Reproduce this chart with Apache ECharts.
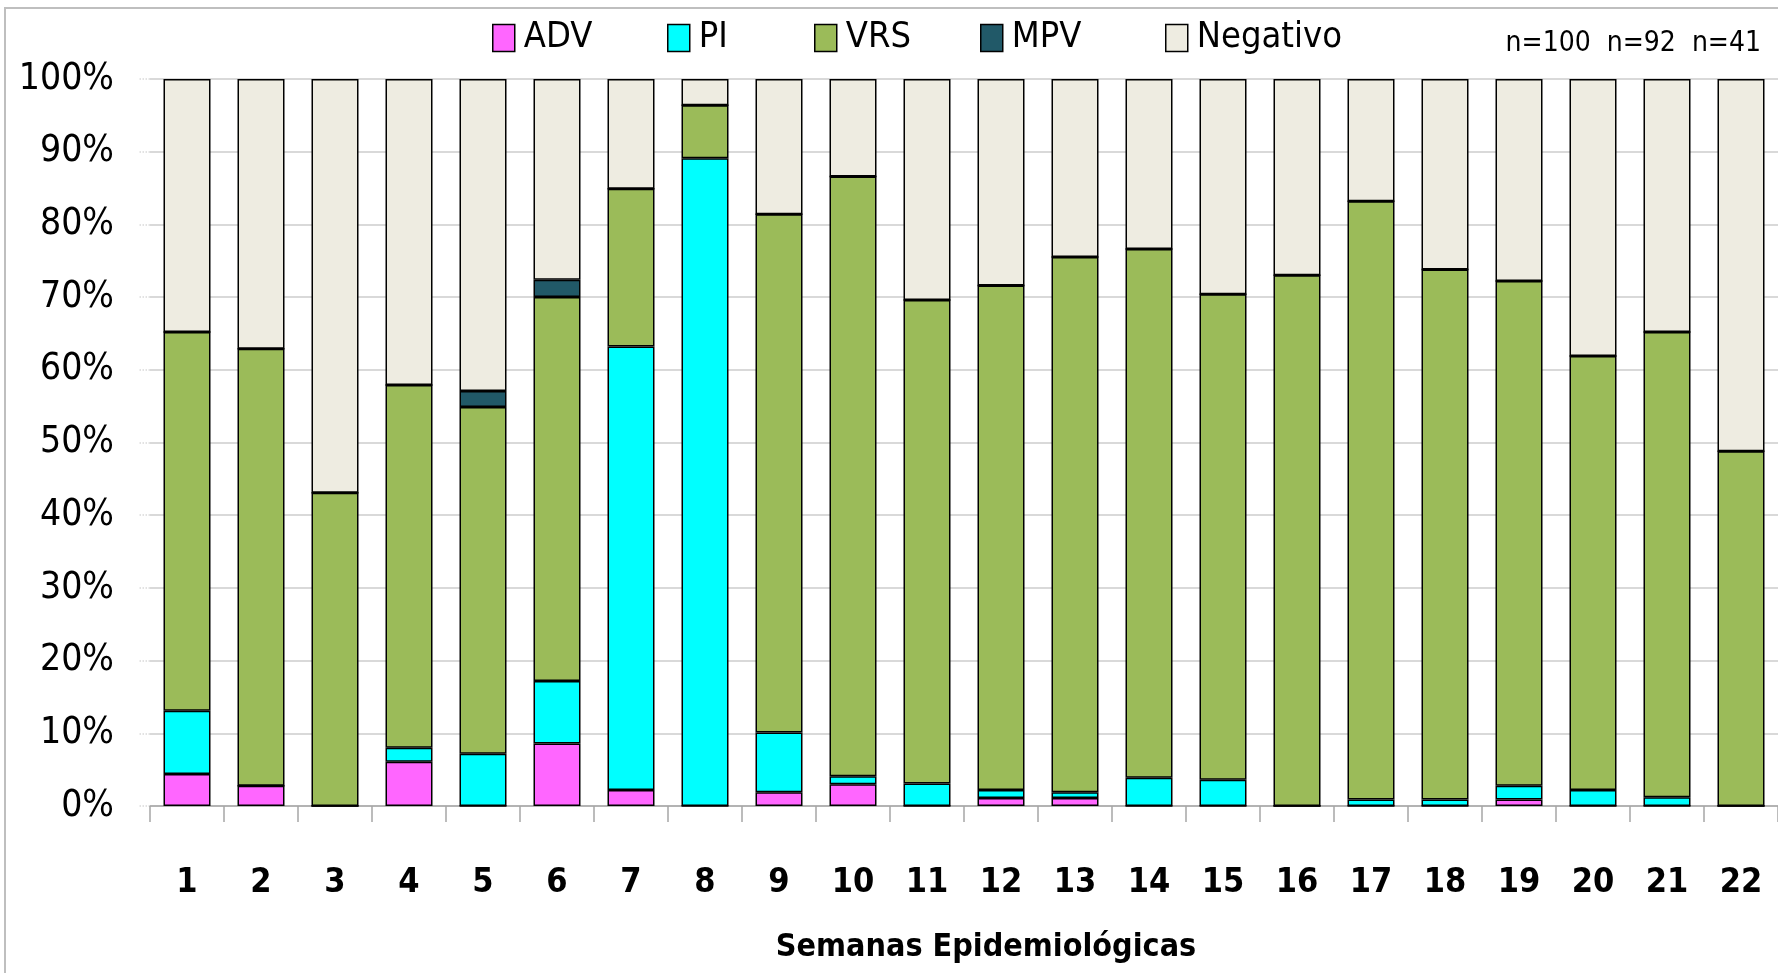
<!DOCTYPE html>
<html>
<head>
<meta charset="utf-8">
<script src="https://cdn.jsdelivr.net/npm/echarts@6/dist/echarts.min.js"></script>
<style>
  html, body { margin: 0; padding: 0; background: #fff; }
  #chart { width: 1778px; height: 973px; }
</style>
</head>
<body>
<div id="chart"></div>
<script>
var semanas = ['1', '2', '3', '4', '5', '6', '7', '8', '9', '10', '11', '12', '13', '14', '15', '16', '17', '18', '19', '20', '21', '22'];
var adv      = [4.4, 2.8, 0, 6.1, 0, 8.6, 2.2, 0, 1.9, 3.0, 0, 1.1, 1.1, 0, 0, 0, 0, 0, 0.9, 0, 0, 0];
var pi       = [8.7, 0, 0, 1.9, 7.2, 8.6, 61.0, 89.1, 8.2, 1.1, 3.1, 1.1, 0.8, 3.9, 3.6, 0, 0.9, 0.9, 1.9, 2.2, 1.2, 0];
var vrs      = [52.1, 60.1, 43.1, 49.9, 47.7, 52.8, 21.7, 7.3, 71.3, 82.5, 66.5, 69.4, 73.6, 72.7, 66.8, 73.0, 82.3, 72.9, 69.4, 59.7, 64.0, 48.8];
var mpv      = [0, 0, 0, 0, 2.2, 2.4, 0, 0, 0, 0, 0, 0, 0, 0, 0, 0, 0, 0, 0, 0, 0, 0];
var negativo = [34.8, 37.1, 56.9, 42.1, 42.9, 27.6, 15.1, 3.6, 18.6, 13.4, 30.4, 28.4, 24.5, 23.4, 29.6, 27.0, 16.8, 26.2, 27.8, 38.1, 34.8, 51.2];
var serieNames = ['ADV', 'PI', 'VRS', 'MPV', 'Negativo'];
var nLabel = 'n=100  n=92  n=41';

initChart();
function initChart(){
    var dom = document.getElementById('chart');
    var myChart = echarts.init(dom, null, { renderer: 'canvas' });
    var font = "'Liberation Sans Narrow', 'DejaVu Sans Condensed', sans-serif";
    // legend item left positions, matched to the reference
    var legendLeft = [492, 667, 814, 980, 1165];

    function serie(name, data, color) {
        return {
            name: name,
            type: 'bar',
            stack: 'total',
            barWidth: 47,
            data: data,
            itemStyle: { color: color, borderColor: '#000', borderWidth: 1.5 }
        };
    }

    var legends = serieNames.map(function (n, i) {
        return {
            left: legendLeft[i],
            top: 20,
            padding: 0,
            icon: 'rect',
            itemWidth: 22,
            itemHeight: 27,
            textStyle: { fontSize: 36, color: '#000', fontFamily: font, padding: [0, 0, 0, 4] },
            itemStyle: { borderColor: '#000', borderWidth: 1.5 },
            data: [n]
        };
    });

    var option = {
        animation: false,
        textStyle: { fontFamily: font },
        legend: legends,
        grid: { left: 150, right: 0, top: 79, bottom: 167 },
        xAxis: {
            type: 'category',
            data: semanas,
            axisLine: { lineStyle: { color: '#A6A6A6', width: 1.5 } },
            axisTick: { show: true, length: 16, interval: 0, lineStyle: { color: '#A6A6A6', width: 1.5 } },
            axisLabel: { interval: 0, margin: 60, fontSize: 34, fontWeight: 'bold', color: '#000', fontFamily: font },
            name: 'Semanas Epidemiológicas',
            nameLocation: 'middle',
            nameGap: 126,
            nameTextStyle: { fontSize: 32, fontWeight: 'bold', color: '#000', fontFamily: font, padding: [0, 0, 0, 44] }
        },
        yAxis: {
            type: 'value',
            min: 0,
            max: 100,
            interval: 10,
            axisLine: { show: false },
            axisTick: { show: true, length: 12, lineStyle: { color: '#D9D9D9', type: 'dotted', width: 1.5 } },
            axisLabel: { formatter: '{value}%', fontSize: 37, color: '#000', margin: 36, fontFamily: font },
            splitLine: { lineStyle: { color: '#D9D9D9', width: 2 } }
        },
        graphic: [
            {
                type: 'rect',
                shape: { x: 5, y: 8, width: 1800, height: 1000 },
                style: { fill: 'none', stroke: '#BFBFBF', lineWidth: 2 },
                silent: true
            },
            {
                type: 'text',
                right: 17,
                top: 30,
                style: { text: nLabel, fontSize: 28, fill: '#000', fontFamily: font }
            }
        ],
        series: [
            serie('ADV', adv, '#FF66FF'),
            serie('PI', pi, '#00FFFF'),
            serie('VRS', vrs, '#9BBB59'),
            serie('MPV', mpv, '#215968'),
            serie('Negativo', negativo, '#EEECE1')
        ]
    };

    myChart.setOption(option);
    window.addEventListener('resize', myChart.resize);
}
</script>
</body>
</html>
